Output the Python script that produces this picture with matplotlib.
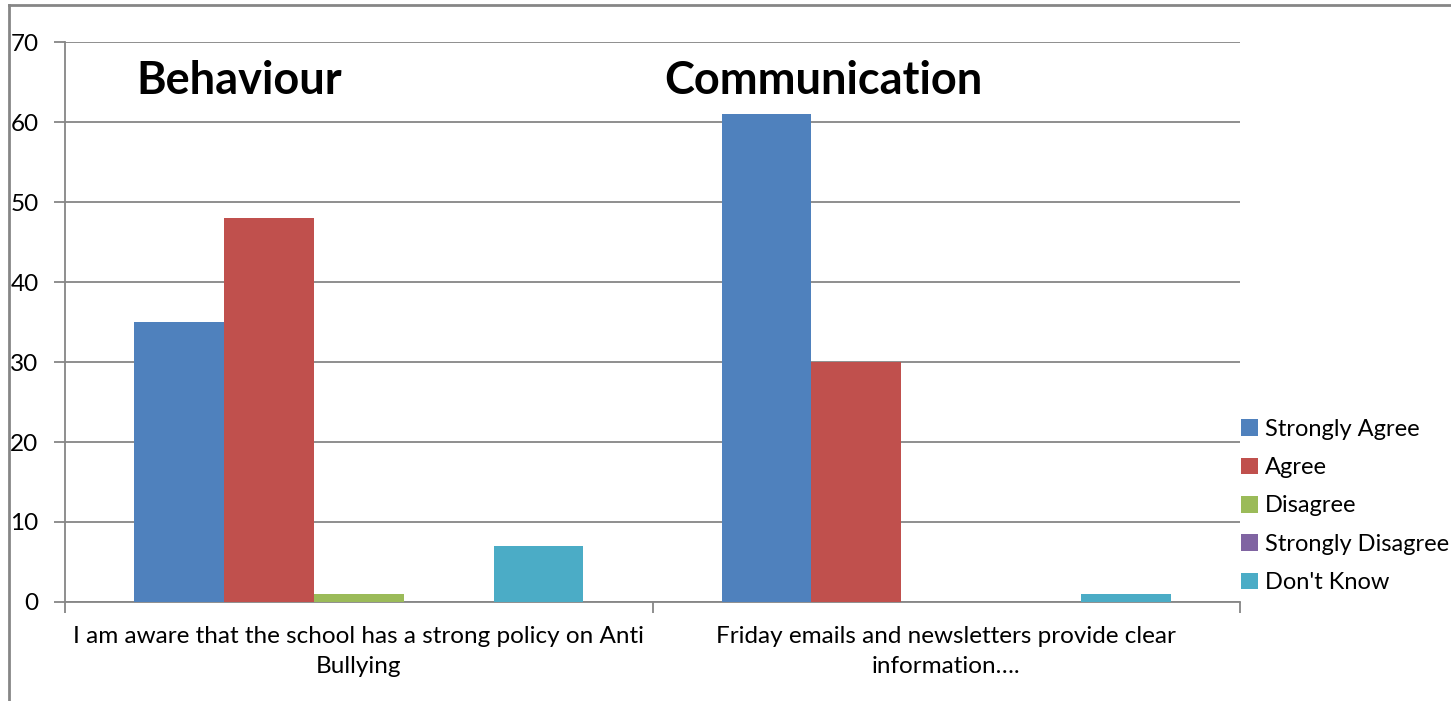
import numpy as np
import matplotlib.pyplot as plt
from matplotlib.lines import Line2D

plt.rcParams['font.family'] = ['Lato', 'DejaVu Sans']

# Datos
categorias = ["I am aware that the school has a strong policy on Anti\nBullying",
              "Friday emails and newsletters provide clear\ninformation…."]
series = ["Strongly Agree", "Agree", "Disagree", "Strongly Disagree", "Don't Know"]
strongly_agree = [35, 61]
agree = [48, 30]
disagree = [1, 0]
strongly_disagree = [0, 0]
dont_know = [7, 1]
titulos = ["Behaviour", "Communication"]

valores = [strongly_agree, agree, disagree, strongly_disagree, dont_know]
colores = ['#4F81BD', '#C0504D', '#9BBB59', '#8064A2', '#4BACC6']

fig = plt.figure(figsize=(14.51, 7.01), dpi=100)
ax = fig.add_axes([65/1451, 1 - 602/701, 1175/1451, 560/701])

x = np.arange(len(categorias))
ancho = 0.153
for i, (nombre, v, c) in enumerate(zip(series, valores, colores)):
    ax.bar(x + (i - 2) * ancho, v, ancho, color=c, label=nombre, zorder=3)

ax.set_xlim(-0.5, 1.5)
ax.set_ylim(0, 70)
ax.set_yticks(range(0, 71, 10))
ax.yaxis.grid(True, color='#868686', linewidth=1.3, zorder=0)
ax.set_xticks([-0.5, 0.5, 1.5])
ax.set_xticklabels([])
ax.set_xticks(x, minor=True)
ax.set_xticklabels(categorias, minor=True, fontsize=17.5, linespacing=1.55)
ax.tick_params(axis='x', which='minor', length=0, pad=17)
ax.tick_params(axis='x', which='major', length=8, color='#868686', width=1.3)
ax.tick_params(axis='y', length=8, color='#868686', width=1.3, labelsize=17.5, pad=11)
for s in ['top', 'right']:
    ax.spines[s].set_visible(False)
for s in ['left', 'bottom']:
    ax.spines[s].set_color('#868686')
    ax.spines[s].set_linewidth(1.3)

# Títulos de sección
fig.text(136/1451, 1 - 81/701, titulos[0], fontsize=32.5, fontweight='bold', va='center')
fig.text(664/1451, 1 - 81/701, titulos[1], fontsize=32.5, fontweight='bold', va='center')

ax.legend(loc='center left', bbox_to_anchor=(1241/1451, 1 - 506/701),
          bbox_transform=fig.transFigure, frameon=False, fontsize=17,
          handlelength=0.7, handleheight=0.7, handletextpad=0.3,
          labelspacing=0.74, borderaxespad=0, borderpad=0)

# Marco del gráfico
fig.add_artist(Line2D([9/1451, 1], [1 - 5/701, 1 - 5/701], color='#868686', linewidth=2))
fig.add_artist(Line2D([9/1451, 9/1451], [0, 1 - 5/701], color='#868686', linewidth=2))

fig.savefig('out.png', dpi=100, facecolor='white')
